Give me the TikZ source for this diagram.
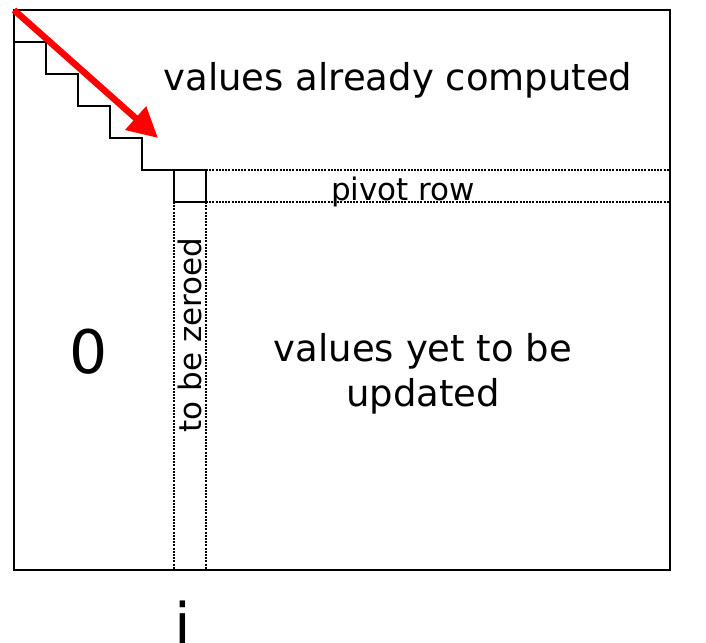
\documentclass[tikz,border=0pt]{standalone}
\usepackage{fontspec}
\setmainfont{DejaVu Sans}
\usetikzlibrary{arrows.meta}
\tikzset{
  label/.style={inner sep=0pt, font=\fontsize{37}{45}\selectfont, align=center},
  small/.style={inner sep=0pt, font=\fontsize{31}{37}\selectfont},
  big/.style={inner sep=0pt, font=\fontsize{60}{70}\selectfont},
  dots/.style={dash pattern=on 2pt off 1.2pt, line width=2pt},
}
\begin{document}
\begin{tikzpicture}[x=1pt, y=-1pt, line width=1.6pt]
\useasboundingbox (0,0) rectangle (706,642);
% Matrix
\draw (14,10) rectangle (670,570);

% Staircase
\draw (14,42) -- (46,42) -- (46,74) -- (78,74) -- (78,106) -- (110,106)
  -- (110,138) -- (142,138) -- (142,170) -- (174,170);
\draw (174,170) rectangle (206,202);

% Pivot row and column
\draw[dots] (206,170) -- (670,170);
\draw[dots] (206,202) -- (670,202);
\draw[dots] (174,202) -- (174,570);
\draw[dots] (206,202) -- (206,570);

% Direction
\draw[red, line width=6.5pt, -{Triangle[length=30pt, width=30pt]}] (14,10) -- (158,138);

% Labels
\node[label] (done) at (398,80) {values already computed};
\node[small] (pivot) at (403,192) {pivot row};
\node[small, rotate=90] (zero) at (190,335) {to be zeroed};
\node[label] (update) at (423,374) {values yet to be\\updated};
\node[big] (nil) at (89,352) {0};
\node[big, anchor=base] (idx) at (183,646) {i};
\end{tikzpicture}
\end{document}
